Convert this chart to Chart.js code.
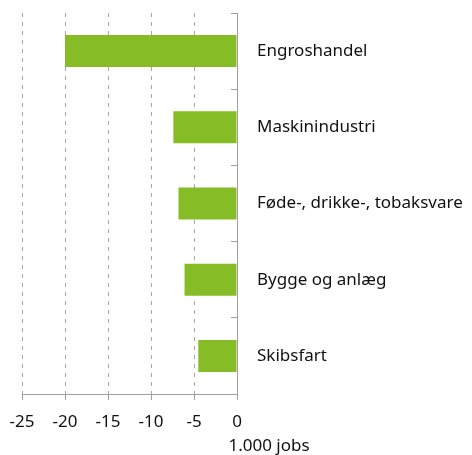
<!DOCTYPE html>
<html>
<head>
<meta charset="utf-8">
<script src="https://cdn.jsdelivr.net/npm/chart.js@4.4.1/dist/chart.umd.min.js"></script>
<style>
  html, body { margin: 0; padding: 0; background: #fff; }
  #wrap { width: 472px; height: 455px; }
</style>
</head>
<body>
<div id="wrap"><canvas id="chart"></canvas></div>
<script>
// data
const sectors = ['Engroshandel', 'Maskinindustri', 'Føde-, drikke-, tobaksvare', 'Bygge og anlæg', 'Skibsfart'];
const jobChange = [-20.0, -7.4, -6.8, -6.1, -4.5];
const xTicks = [-25, -20, -15, -10, -5, 0];
const unitLabel = '1.000 jobs';

const fontFamily = '"Noto Sans", "Open Sans", sans-serif';
const fontSize = 17;
const axisGray = '#a0a0a0';

// unit text under the 0 end of the x axis
const unitTitle = {
  id: 'unitTitle',
  afterDraw(chart) {
    const ctx = chart.ctx;
    const xScale = chart.scales.x;
    ctx.save();
    ctx.font = fontSize + 'px ' + fontFamily;
    ctx.fillStyle = '#111';
    ctx.textAlign = 'center';
    ctx.textBaseline = 'middle';
    ctx.fillText(unitLabel, xScale.getPixelForValue(0) + 32, 446);
    ctx.restore();
  }
};

const ctx = document.getElementById('chart');
const myChart = new Chart(ctx, {
  type: 'bar',
  data: {
    labels: sectors,
    datasets: [{
      label: unitLabel,
      data: jobChange,
      backgroundColor: '#86bc25',
      borderWidth: 0,
      categoryPercentage: 1,
      barPercentage: 0.42
    }]
  },
  options: {
    indexAxis: 'y',
    responsive: true,
    maintainAspectRatio: false,
    animation: false,
    layout: { padding: { left: 22, top: 13, right: 0, bottom: 0 } },
    plugins: {
      legend: { display: false },
      tooltip: { enabled: false }
    },
    scales: {
      x: {
        min: -25,
        max: 0,
        afterBuildTicks(scale) {
          scale.ticks = xTicks.map(v => ({ value: v }));
        },
        afterFit(scale) {
          scale.height = 61;
          scale.paddingLeft = 0;
          scale.paddingRight = 0;
        },
        grid: {
          color: c => (c.tick && c.tick.value === 0) ? 'rgba(0,0,0,0)' : '#a6a6a6',
          tickColor: axisGray,
          tickLength: 6,
          tickBorderDash: []
        },
        border: { color: axisGray, width: 1, dash: [4, 5] },
        ticks: {
          color: '#111',
          padding: 12,
          font: { family: fontFamily, size: fontSize }
        }
      },
      y: {
        position: 'right',
        afterFit(scale) {
          scale.width = 235;
          // tick padding is horizontal here, keep it out of the top/bottom space
          scale.paddingTop = 0;
          scale.paddingBottom = 0;
        },
        grid: {
          offset: true,
          drawOnChartArea: false,
          tickLength: -6,
          color: axisGray
        },
        border: { color: axisGray, width: 1 },
        ticks: {
          color: '#111',
          padding: 26,
          font: { family: fontFamily, size: fontSize }
        }
      }
    }
  },
  plugins: [unitTitle]
});
</script>
</body>
</html>
